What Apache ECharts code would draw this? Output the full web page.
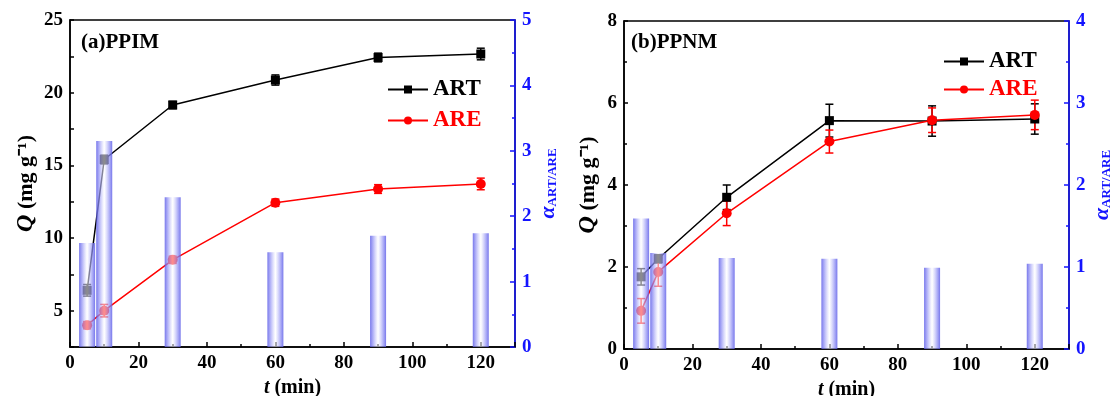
<!DOCTYPE html>
<html>
<head>
<meta charset="utf-8">
<script src="https://cdn.jsdelivr.net/npm/echarts@6/dist/echarts.min.js"></script>
<style>
  html, body { margin: 0; padding: 0; background: #fff; }
  #chart { width: 1115px; height: 396px; }
</style>
</head>
<body>
<div id="chart"></div>
<script>
// sampling times (min)
const times = [5, 10, 30, 60, 90, 120];

// (a) PPIM
const artA = [6.4, 15.4, 19.15, 20.87, 22.42, 22.66];
const artAErr = [0.4, 0.3, 0.25, 0.35, 0.3, 0.4];
const areA = [4.0, 5.0, 8.5, 12.43, 13.37, 13.72];
const areAErr = [0.25, 0.43, 0.25, 0.25, 0.3, 0.4];
const alphaA = [1.59, 3.15, 2.29, 1.45, 1.70, 1.74];

// (b) PPNM
const artB = [1.76, 2.2, 3.7, 5.57, 5.56, 5.61];
const artBErr = [0.2, 0.1, 0.3, 0.4, 0.37, 0.37];
const areB = [0.93, 1.88, 3.31, 5.06, 5.58, 5.71];
const areBErr = [0.3, 0.35, 0.3, 0.28, 0.3, 0.36];
const alphaB = [1.59, 1.17, 1.11, 1.10, 0.99, 1.04];

const FONT = "'Times New Roman', 'Liberation Serif', serif";
const BLUE = "#1414ff";

const pairs = (xs, ys) => xs.map((x, i) => [x, ys[i]]);
const errRows = (xs, ys, es) => xs.map((x, i) => [x, ys[i] - es[i], ys[i] + es[i]]);

function errorBars(color) {
  return function (params, api) {
    const x = api.value(0);
    const lo = api.coord([x, api.value(1)]);
    const hi = api.coord([x, api.value(2)]);
    const w = 4;
    const style = { stroke: color, lineWidth: 1.5 };
    return {
      type: "group",
      children: [
        { type: "line", shape: { x1: lo[0], y1: lo[1], x2: hi[0], y2: hi[1] }, style },
        { type: "line", shape: { x1: lo[0] - w, y1: lo[1], x2: lo[0] + w, y2: lo[1] }, style },
        { type: "line", shape: { x1: hi[0] - w, y1: hi[1], x2: hi[0] + w, y2: hi[1] }, style },
      ],
    };
  };
}

const barFill = {
  type: "linear", x: 0, y: 0, x2: 1, y2: 0,
  colorStops: [
    { offset: 0, color: "rgba(95,95,232,0.85)" },
    { offset: 0.2, color: "rgba(150,150,245,0.7)" },
    { offset: 0.5, color: "rgba(255,255,255,0.55)" },
    { offset: 0.8, color: "rgba(150,150,245,0.7)" },
    { offset: 1, color: "rgba(95,95,232,0.85)" },
  ],
};

function xAxis(gridIndex) {
  return {
    type: "value", gridIndex, min: 0, max: 130, interval: 20,
    axisLine: { lineStyle: { color: "#000", width: 1.5 } },
    axisTick: { inside: true, length: 5, lineStyle: { color: "#000", width: 1.5 } },
    minorTick: { show: true, splitNumber: 2, length: 3, lineStyle: { color: "#000", width: 1.5 } },
    axisLabel: {
      color: "#000", fontFamily: FONT, fontWeight: "bold", fontSize: 19, margin: 7,
      showMaxLabel: false,
      formatter: (v) => (v <= 120 ? String(v) : ""),
    },
    splitLine: { show: false },
    name: "{i|t} (min)",
    nameLocation: "middle",
    nameGap: 26,
    nameTextStyle: {
      color: "#000", fontFamily: FONT, fontWeight: "bold", fontSize: 20,
      rich: { i: { fontFamily: FONT, fontWeight: "bold", fontStyle: "italic", fontSize: 20, color: "#000" } },
    },
  };
}

function qAxis(gridIndex, min, max, interval, every) {
  return {
    type: "value", gridIndex, min, max, interval, position: "left",
    axisLine: { show: true, lineStyle: { color: "#000", width: 1.5 } },
    axisTick: { show: true, inside: true, length: 4, lineStyle: { color: "#000", width: 1.5 } },
    minorTick: every ? { show: false } : { show: true, splitNumber: 2, length: 3, lineStyle: { color: "#000", width: 1.5 } },
    axisLabel: {
      color: "#000", fontFamily: FONT, fontWeight: "bold", fontSize: 19, margin: 7,
      formatter: (v) => (every && Math.abs(v % every) > 1e-9 ? "" : String(v)),
    },
    splitLine: { show: false },
    name: "{i|Q} (mg g⁻¹)",
    nameLocation: "middle",
    nameRotate: 90,
    nameGap: every ? 32 : 24,
    nameTextStyle: {
      color: "#000", fontFamily: FONT, fontWeight: "bold", fontSize: 22,
      rich: { i: { fontFamily: FONT, fontWeight: "bold", fontStyle: "italic", fontSize: 24, color: "#000" } },
    },
  };
}

function alphaAxis(gridIndex, max) {
  return {
    type: "value", gridIndex, min: 0, max, interval: 1, position: "right",
    axisLine: { show: true, lineStyle: { color: BLUE, width: 1.5 } },
    axisTick: { show: true, inside: true, length: 5, lineStyle: { color: BLUE, width: 1.5 } },
    minorTick: { show: true, splitNumber: 2, length: 3, lineStyle: { color: BLUE, width: 1.5 } },
    axisLabel: { color: BLUE, fontFamily: FONT, fontWeight: "bold", fontSize: 19, margin: 7 },
    splitLine: { show: false },
    name: "{a|α}{s|ART/ARE}",
    nameLocation: "middle",
    nameRotate: 90,
    nameGap: 22,
    nameTextStyle: {
      color: BLUE,
      rich: {
        a: { fontFamily: FONT, fontWeight: "bold", fontStyle: "italic", fontSize: 22, color: BLUE, lineHeight: 22, verticalAlign: "middle" },
        s: { fontFamily: FONT, fontWeight: "bold", fontSize: 13, color: BLUE, lineHeight: 22, verticalAlign: "bottom", padding: [8, 0, 0, 0] },
      },
    },
  };
}

function panelSeries(idx, art, artErr, are, areErr, alpha) {
  const qy = idx * 2;
  const ay = idx * 2 + 1;
  return [
    {
      type: "custom", xAxisIndex: idx, yAxisIndex: qy, z: 2,
      renderItem: errorBars("#000"), encode: { x: 0, y: [1, 2] },
      data: errRows(times, art, artErr), silent: true,
    },
    {
      type: "custom", xAxisIndex: idx, yAxisIndex: qy, z: 2,
      renderItem: errorBars("#ff0000"), encode: { x: 0, y: [1, 2] },
      data: errRows(times, are, areErr), silent: true,
    },
    {
      name: "ART", type: "line", xAxisIndex: idx, yAxisIndex: qy, z: 3,
      data: pairs(times, art), symbol: "rect", symbolSize: 9,
      lineStyle: { color: "#000", width: 1.5 }, itemStyle: { color: "#000" },
    },
    {
      name: "ARE", type: "line", xAxisIndex: idx, yAxisIndex: qy, z: 3,
      data: pairs(times, are), symbol: "circle", symbolSize: 10,
      lineStyle: { color: "#ff0000", width: 1.5 }, itemStyle: { color: "#ff0000" },
    },
    {
      name: "alpha", type: "bar", xAxisIndex: idx, yAxisIndex: ay, z: 6,
      data: pairs(times, alpha), barWidth: 16,
      itemStyle: { color: barFill },
    },
  ];
}

function legend(left, top, gap) {
  return {
    left, top, orient: "vertical", padding: 0, itemWidth: 40, itemHeight: 10, itemGap: gap,
    textStyle: { fontFamily: FONT, fontWeight: "bold", fontSize: 23 },
    data: [
      { name: "ART", textStyle: { color: "#000" } },
      { name: "ARE", textStyle: { color: "#ff0000" } },
    ],
    selectedMode: false,
  };
}

const gridBase = {
  show: true, borderColor: "#000", borderWidth: 1.5, backgroundColor: "transparent",
  containLabel: false, outerBoundsMode: "none",
};

const chart = echarts.init(document.getElementById("chart"), null, { renderer: "canvas" });
chart.setOption({
  backgroundColor: "#fff",
  animation: false,
  grid: [
    { ...gridBase, left: 70, top: 20, width: 445, height: 327 },
    { ...gridBase, left: 624, top: 21, width: 445, height: 328 },
  ],
  xAxis: [xAxis(0), xAxis(1)],
  yAxis: [
    qAxis(0, 2.5, 25, 2.5, 5),
    alphaAxis(0, 5),
    qAxis(1, 0, 8, 2, 0),
    alphaAxis(1, 4),
  ],
  legend: [legend(387, 78, 8), legend(943, 50, 5)],
  title: [
    { text: "(a)PPIM", left: 76, top: 27, textStyle: { fontFamily: FONT, fontWeight: "bold", fontSize: 21, color: "#000" } },
    { text: "(b)PPNM", left: 626, top: 27, textStyle: { fontFamily: FONT, fontWeight: "bold", fontSize: 21, color: "#000" } },
  ],
  series: [
    ...panelSeries(0, artA, artAErr, areA, areAErr, alphaA),
    ...panelSeries(1, artB, artBErr, areB, areBErr, alphaB),
  ],
});
</script>
</body>
</html>
